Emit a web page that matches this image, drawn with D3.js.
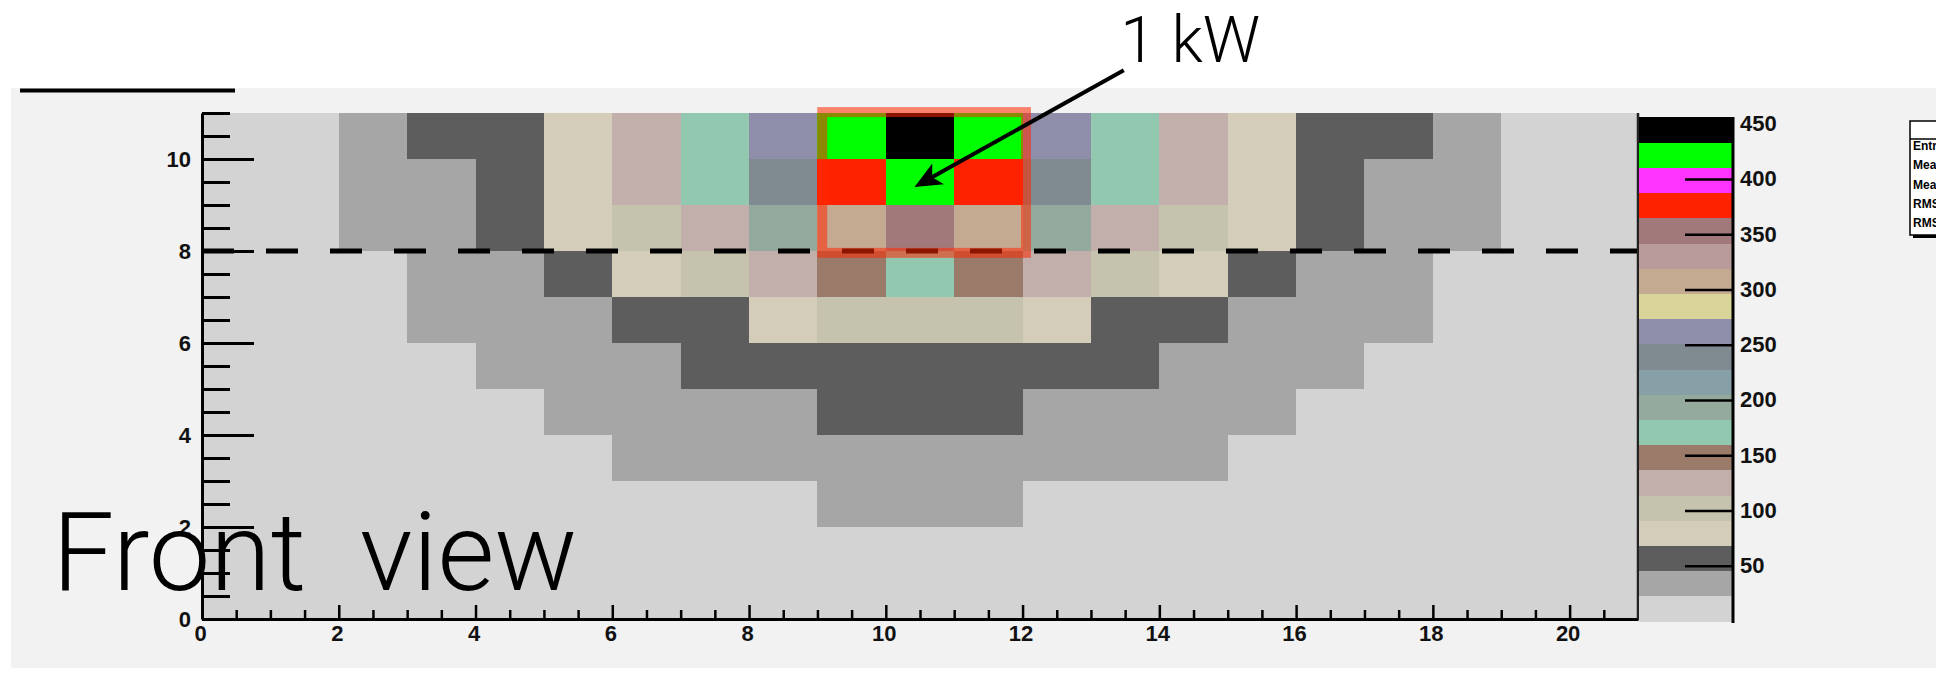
<!DOCTYPE html>
<html>
<head>
<meta charset="utf-8">
<script src="https://cdn.jsdelivr.net/npm/d3@7"></script>
<style>
    body { margin: 0; background: #ffffff; }
    svg { display: block; }
    .tick text { font-family: "Liberation Sans", Arial, sans-serif; font-weight: bold; font-size: 22px; fill: #111; }
    .note { font-family: Roboto, "Open Sans", sans-serif; font-weight: 300; fill: #000; }
</style>
</head>
<body>
<div id="chart"></div>
<script>
// power per cell, rows from the top (y = 10..11) down to the bottom (y = 0..1)
const powerRows = [
    [10, 10, 33, 57, 57, 80, 125, 171, 262, 422, 445, 422, 262, 171, 125, 80, 57, 57, 33, 10, 10],
    [10, 10, 33, 33, 57, 80, 125, 171, 240, 377, 422, 377, 240, 171, 125, 80, 57, 33, 33, 10, 10],
    [10, 10, 33, 33, 57, 80, 103, 125, 194, 308, 354, 308, 194, 125, 103, 80, 57, 33, 33, 10, 10],
    [10, 10, 10, 33, 33, 57, 80, 103, 125, 148, 171, 148, 125, 103, 80, 57, 33, 33, 10, 10, 10],
    [10, 10, 10, 33, 33, 33, 57, 57, 80, 103, 103, 103, 80, 57, 57, 33, 33, 33, 10, 10, 10],
    [10, 10, 10, 10, 33, 33, 33, 57, 57, 57, 57, 57, 57, 57, 33, 33, 33, 10, 10, 10, 10],
    [10, 10, 10, 10, 10, 33, 33, 33, 33, 57, 57, 57, 33, 33, 33, 33, 10, 10, 10, 10, 10],
    [10, 10, 10, 10, 10, 10, 33, 33, 33, 33, 33, 33, 33, 33, 33, 10, 10, 10, 10, 10, 10],
    [10, 10, 10, 10, 10, 10, 10, 10, 10, 33, 33, 33, 10, 10, 10, 10, 10, 10, 10, 10, 10],
    [10, 10, 10, 10, 10, 10, 10, 10, 10, 10, 10, 10, 10, 10, 10, 10, 10, 10, 10, 10, 10],
    [10, 10, 10, 10, 10, 10, 10, 10, 10, 10, 10, 10, 10, 10, 10, 10, 10, 10, 10, 10, 10]
];
const xTicks = [0, 2, 4, 6, 8, 10, 12, 14, 16, 18, 20];
const yTicks = [0, 2, 4, 6, 8, 10];
const zTicks = [50, 100, 150, 200, 250, 300, 350, 400, 450];
const zMax = 456;
// palette, lowest band first
const paletteColors = [
    "#d3d3d3", "#a6a6a6", "#5d5d5d", "#d4cdb9", "#c5c2ae", "#c2aeab", "#9a7a69", "#93c8b0", "#94aa9d", "#87a0a8",
    "#7f8a91", "#8e8eaa", "#d9d59a", "#c5aa92", "#b99b9b", "#a2797b", "#ff2200", "#ff33ff", "#00ff00", "#000000"
];
const statLabels = ["Entries", "Mean x", "Mean y", "RMS x", "RMS y"];
const cutLevel = 8;
const highlight = {x0: 9.07, x1: 12.05, y0: 7.96, y1: 11.02};
const arrowFrom = [13.48, 11.93];
const arrowTo = [10.42, 9.39];
const powerLabel = {text: "1 kW", x: 13.43, y: 12.11};
const viewLabel = {text: "Front  view", x: -2.19, y: 0.63};

const W = 1936, H = 674;
const svg = d3.select("#chart").append("svg")
    .attr("width", W)
    .attr("height", H);

svg.append("rect")
    .attr("x", 11).attr("y", 88)
    .attr("width", W - 11).attr("height", 580)
    .attr("fill", "#f2f2f2");

const x = d3.scaleLinear().domain([0, 21]).range([202, 1638]);
const y = d3.scaleLinear().domain([0, 11]).range([619, 113]);
const z = d3.scaleLinear().domain([0, zMax]).range([621, 117]);
const color = d3.scaleQuantize().domain([0, zMax]).range(paletteColors);

let cells = [];
powerRows.forEach((row, i) => {
    row.forEach((v, j) => {
        cells.push({ix: j, iy: powerRows.length - 1 - i, value: v});
    });
});

svg.append("g").selectAll("rect")
    .data(cells)
    .join("rect")
    .attr("x", d => x(d.ix))
    .attr("y", d => y(d.iy + 1))
    .attr("width", x(1) - x(0) + 0.6)
    .attr("height", y(0) - y(1) + 0.6)
    .attr("fill", d => color(d.value))
    .attr("shape-rendering", "crispEdges");

// cut line
svg.append("line")
    .attr("x1", x(0)).attr("x2", x(21))
    .attr("y1", y(cutLevel)).attr("y2", y(cutLevel))
    .style("stroke", "#000")
    .style("stroke-width", 5)
    .style("stroke-dasharray", "32, 32");

// axes
const half = d3.range(0, 21.01, 0.5).filter(v => v % 2 !== 0);
svg.append("g")
    .attr("transform", `translate(0, ${y(0)})`)
    .call(d3.axisBottom(x).tickValues(half).tickSize(-9).tickSizeOuter(0).tickFormat(""))
    .call(g => g.selectAll("line").style("stroke-width", 2.5));
svg.append("g")
    .attr("transform", `translate(0, ${y(0)})`)
    .call(d3.axisBottom(x).tickValues(xTicks).tickSize(-14).tickSizeOuter(0).tickPadding(6))
    .call(g => g.selectAll("line").style("stroke-width", 2.5))
    .call(g => g.select(".domain").style("stroke-width", 3))
    .selectAll("text").attr("dx", -2);

const halfY = d3.range(0, 11.01, 0.5).filter(v => v % 2 !== 0);
svg.append("g")
    .attr("transform", `translate(${x(0)}, 0)`)
    .call(d3.axisLeft(y).tickValues(halfY).tickSize(-28).tickSizeOuter(0).tickFormat(""))
    .call(g => g.selectAll("line").style("stroke-width", 3));
svg.append("g")
    .attr("transform", `translate(${x(0)}, 0)`)
    .call(d3.axisLeft(y).tickValues(yTicks).tickSize(-52).tickSizeOuter(0).tickPadding(11))
    .call(g => g.selectAll("line").style("stroke-width", 3))
    .call(g => g.select(".domain").style("stroke-width", 3));

svg.append("line")
    .attr("x1", x(21)).attr("x2", x(21))
    .attr("y1", y(11)).attr("y2", y(0))
    .style("stroke", "#222")
    .style("stroke-width", 2.5);

// palette
const bandSize = zMax / paletteColors.length;
svg.append("g").selectAll("rect")
    .data(paletteColors)
    .join("rect")
    .attr("x", 1639)
    .attr("y", (c, i) => z((i + 1) * bandSize))
    .attr("width", 94)
    .attr("height", z(0) - z(bandSize) + 0.5)
    .attr("fill", c => c)
    .attr("shape-rendering", "crispEdges");
svg.append("g")
    .attr("transform", "translate(1733, 0)")
    .call(d3.axisRight(z).tickValues(zTicks).tickSize(-48).tickSizeOuter(0).tickPadding(7))
    .call(g => g.selectAll("line").style("stroke-width", 2.5))
    .call(g => g.select(".domain").attr("d", `M0,${z(zMax)}V${z(0) + 2}`).style("stroke-width", 3));

// highlighted cells and arrow
svg.append("rect")
    .attr("x", x(highlight.x0))
    .attr("y", y(highlight.y1))
    .attr("width", x(highlight.x1) - x(highlight.x0))
    .attr("height", y(highlight.y0) - y(highlight.y1))
    .attr("fill", "none")
    .attr("stroke", "rgb(255, 40, 0)")
    .attr("stroke-opacity", 0.55)
    .attr("stroke-width", 10);

const [ax0, ay0] = [x(arrowFrom[0]), y(arrowFrom[1])];
const [ax1, ay1] = [x(arrowTo[0]), y(arrowTo[1])];
const len = Math.hypot(ax1 - ax0, ay1 - ay0);
const ux = (ax1 - ax0) / len, uy = (ay1 - ay0) / len;
const headLen = 27, headW = 12;
svg.append("line")
    .attr("x1", ax0).attr("y1", ay0)
    .attr("x2", ax1 - ux * headLen * 0.7).attr("y2", ay1 - uy * headLen * 0.7)
    .style("stroke", "#000")
    .style("stroke-width", 4);
svg.append("path")
    .attr("d", d3.line()([
        [ax1, ay1],
        [ax1 - ux * headLen - uy * headW, ay1 - uy * headLen + ux * headW],
        [ax1 - ux * headLen * 0.75, ay1 - uy * headLen * 0.75],
        [ax1 - ux * headLen + uy * headW, ay1 - uy * headLen - ux * headW]
    ]) + "Z")
    .attr("fill", "#000");

svg.append("text")
    .attr("class", "note")
    .attr("x", x(powerLabel.x))
    .attr("y", y(powerLabel.y))
    .style("font-size", "64px")
    .text(powerLabel.text);

svg.append("text")
    .attr("class", "note")
    .attr("x", x(viewLabel.x))
    .attr("y", y(viewLabel.y))
    .style("font-size", "110px")
    .style("white-space", "pre")
    .text(viewLabel.text);

// stats box, cut by the right edge
const stat = svg.append("g").attr("transform", "translate(1910, 121)");
stat.append("rect")
    .attr("x", 3).attr("y", 3).attr("width", 80).attr("height", 114)
    .attr("fill", "#000");
stat.append("rect")
    .attr("width", 80).attr("height", 114)
    .attr("fill", "#fff")
    .attr("stroke", "#000")
    .attr("stroke-width", 1.5);
stat.append("line")
    .attr("x1", 0).attr("x2", 80).attr("y1", 18).attr("y2", 18)
    .style("stroke", "#000").style("stroke-width", 1.5);
stat.selectAll("text.stat")
    .data(statLabels)
    .join("text")
    .attr("class", "stat")
    .attr("x", 3)
    .attr("y", (d, i) => 29 + i * 19.3)
    .style("font-family", "Liberation Sans, Arial, sans-serif")
    .style("font-weight", "bold")
    .style("font-size", "12px")
    .text(d => d);

svg.append("line")
    .attr("x1", 20).attr("x2", 235)
    .attr("y1", 90.5).attr("y2", 90.5)
    .style("stroke", "#000")
    .style("stroke-width", 4);
</script>
</body>
</html>
